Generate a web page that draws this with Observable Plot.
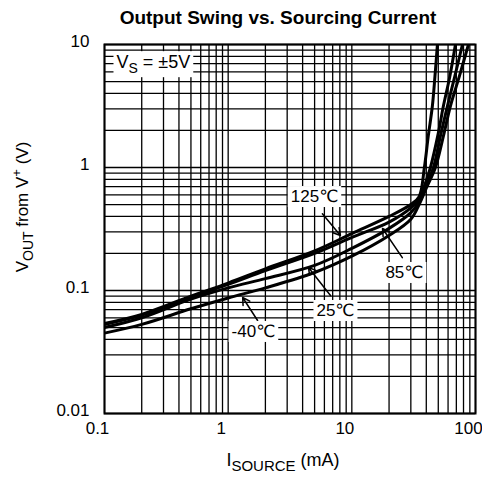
<!DOCTYPE html>
<html><head><meta charset="utf-8">
<script src="https://cdn.jsdelivr.net/npm/d3@7"></script>
<script src="https://cdn.jsdelivr.net/npm/@observablehq/plot@0.6"></script>
<style>
body{margin:0;background:#fff;font-family:Arial,"Liberation Sans",sans-serif;}
#title{height:30px;width:482px;position:relative;}
#title span{position:absolute;left:278px;top:18px;transform:translate(-50%,-50%);font-weight:bold;font-size:19px;white-space:nowrap;color:#000;}
#chart svg{display:block;}
</style></head><body>
<div id="title"><span>Output Swing vs. Sourcing Current</span></div>
<div id="chart"></div>
<script>
// ---- data ----
const i125 = [0.1, 0.2, 0.5, 1, 2, 5, 10, 20, 30, 35, 38.6, 41.5, 44.8, 47, 49.2];
const v125 = [0.054, 0.064, 0.09, 0.115, 0.15, 0.21, 0.29, 0.4, 0.5, 0.58, 1.0, 1.8, 3.16, 5.5, 10];
const i85 = [0.1, 0.2, 0.5, 1, 2, 5, 10, 20, 30, 35, 40, 43.2, 50, 55, 62, 68.8];
const v85 = [0.053, 0.063, 0.088, 0.112, 0.145, 0.2, 0.27, 0.36, 0.47, 0.56, 0.78, 1.0, 1.9, 3.16, 5.5, 10];
const i25 = [0.1, 0.2, 0.5, 1, 2, 5, 10, 20, 30, 35, 40, 45.7, 52, 59.3, 68, 78.4];
const v25 = [0.05, 0.06, 0.085, 0.105, 0.125, 0.16, 0.22, 0.32, 0.43, 0.53, 0.72, 1.0, 1.8, 3.16, 5.5, 10];
const iM40 = [0.1, 0.2, 0.5, 1, 2, 5, 10, 20, 30, 35, 40, 47.4, 55, 62.7, 74, 87.7];
const vM40 = [0.045, 0.053, 0.071, 0.087, 0.105, 0.14, 0.19, 0.28, 0.38, 0.5, 0.68, 1.0, 1.8, 3.16, 5.5, 10];

const labelText = ["125℃", "85℃", "25℃", "-40℃"];
const labelX = [4.99, 26.6, 7.37, 1.6];
const labelY = [0.58, 0.14, 0.0687, 0.0464];
const arrowX1 = [5.78, 25.6, 6.72, 1.73];
const arrowY1 = [0.42, 0.185, 0.091, 0.057];
const arrowX2 = [8.09, 17.7, 4.46, 1.31];
const arrowY2 = [0.28, 0.319, 0.154, 0.0877];

const vsText = ["VS = ±5V"];
const vsX = [0.125];
const vsY = [7.15];

const xTicks = [0.1, 1, 10, 100];
const yTicks = [0.01, 0.1, 1, 10];
const xGrid = [0.1,0.2,0.3,0.4,0.5,0.6,0.7,0.8,0.9,1,2,3,4,5,6,7,8,9,10,20,30,40,50,60,70,80,90,100];
const yGrid = [0.01,0.02,0.03,0.04,0.05,0.06,0.07,0.08,0.09,0.1,0.2,0.3,0.4,0.5,0.6,0.7,0.8,0.9,1,2,3,4,5,6,7,8,9,10];

// ---- tables built from the arrays ----
const series = [["125", i125, v125], ["85", i85, v85], ["25", i25, v25], ["-40", iM40, vM40]];
const rows = series.flatMap(([t, xs, ys]) => xs.map((x, k) => ({t, i: x, v: ys[k]})));
const ann = labelText.map((s, k) => ({s, x: labelX[k], y: labelY[k], x1: arrowX1[k], y1: arrowY1[k], x2: arrowX2[k], y2: arrowY2[k]}));
const vs = vsText.map((s, k) => ({s, x: vsX[k], y: vsY[k]}));

const font = "Arial, 'Liberation Sans', 'DejaVu Sans', sans-serif";
const svg = Plot.plot({
  width: 482, height: 447,
  marginTop: 14, marginBottom: 64, marginLeft: 104, marginRight: 7,
  x: {type: "log", domain: [0.1, 100]},
  y: {type: "log", domain: [0.01, 10]},
  style: {fontFamily: font, fontSize: "17px", color: "#000", background: "#fff"},
  marks: [
    Plot.ruleX(xGrid, {stroke: "#000", strokeWidth: 1.3}),
    Plot.ruleY(yGrid, {stroke: "#000", strokeWidth: 1.3}),
    Plot.line(rows, {x: "i", y: "v", z: "t", stroke: "#000", strokeWidth: 3, curve: "catmull-rom", clip: true}),
    Plot.arrow(ann, {x1: "x1", y1: "y1", x2: "x2", y2: "y2", stroke: "#000", strokeWidth: 1.5, headLength: 8}),
    Plot.text(ann, {x: "x", y: "y", text: "s", fontSize: 17, fill: "#000", className: "lbl"}),
    Plot.text(vs, {x: "x", y: "y", text: "s", fontSize: 18, fill: "#000", textAnchor: "start", className: "vslbl"}),
    Plot.frame({stroke: "#000", strokeWidth: 2}),
    Plot.axisX(xTicks, {tickSize: 0, tickPadding: 8, fontSize: 17, dx: -7, tickFormat: d => String(d), label: null}),
    Plot.axisY(yTicks, {tickSize: 0, tickPadding: 15, fontSize: 17, dy: -3, tickFormat: d => String(d), label: null})
  ]
});
document.getElementById("chart").appendChild(svg);

// rich text for V_S label
svg.querySelectorAll(".vslbl text").forEach(t => {
  t.textContent = "";
  const d = d3.select(t);
  d.append("tspan").text("V");
  d.append("tspan").attr("dy", 5).attr("font-size", 14).text("S");
  d.append("tspan").attr("dy", -5).text(" = ±5V");
});
// white boxes behind annotation texts
svg.querySelectorAll(".lbl text, .vslbl text").forEach(t => {
  const b = t.getBBox();
  const r = document.createElementNS("http://www.w3.org/2000/svg", "rect");
  r.setAttribute("x", b.x - 3); r.setAttribute("y", b.y - 1);
  r.setAttribute("width", b.width + 6); r.setAttribute("height", b.height + 2);
  r.setAttribute("fill", "#fff");
  if (t.getAttribute("transform")) r.setAttribute("transform", t.getAttribute("transform"));
  t.parentNode.insertBefore(r, t);
});

// axis titles
const s = d3.select(svg);
const xt = s.append("text").attr("x", 283).attr("y", 436).attr("text-anchor", "middle")
  .attr("font-family", font).attr("font-size", 18).attr("fill", "#000");
xt.append("tspan").text("I");
xt.append("tspan").attr("dy", 5).attr("font-size", 15).text("SOURCE");
xt.append("tspan").attr("dy", -5).text(" (mA)");

const yt = s.append("text").attr("transform", "translate(28,177) rotate(-90)").attr("text-anchor", "middle")
  .attr("font-family", font).attr("font-size", 17).attr("fill", "#000");
yt.append("tspan").text("V");
yt.append("tspan").attr("dy", 5).attr("font-size", 14).text("OUT");
yt.append("tspan").attr("dy", -5).text(" from V");
yt.append("tspan").attr("dy", -7).attr("font-size", 13).text("+");
yt.append("tspan").attr("dy", 7).text(" (V)");
</script></body></html>
